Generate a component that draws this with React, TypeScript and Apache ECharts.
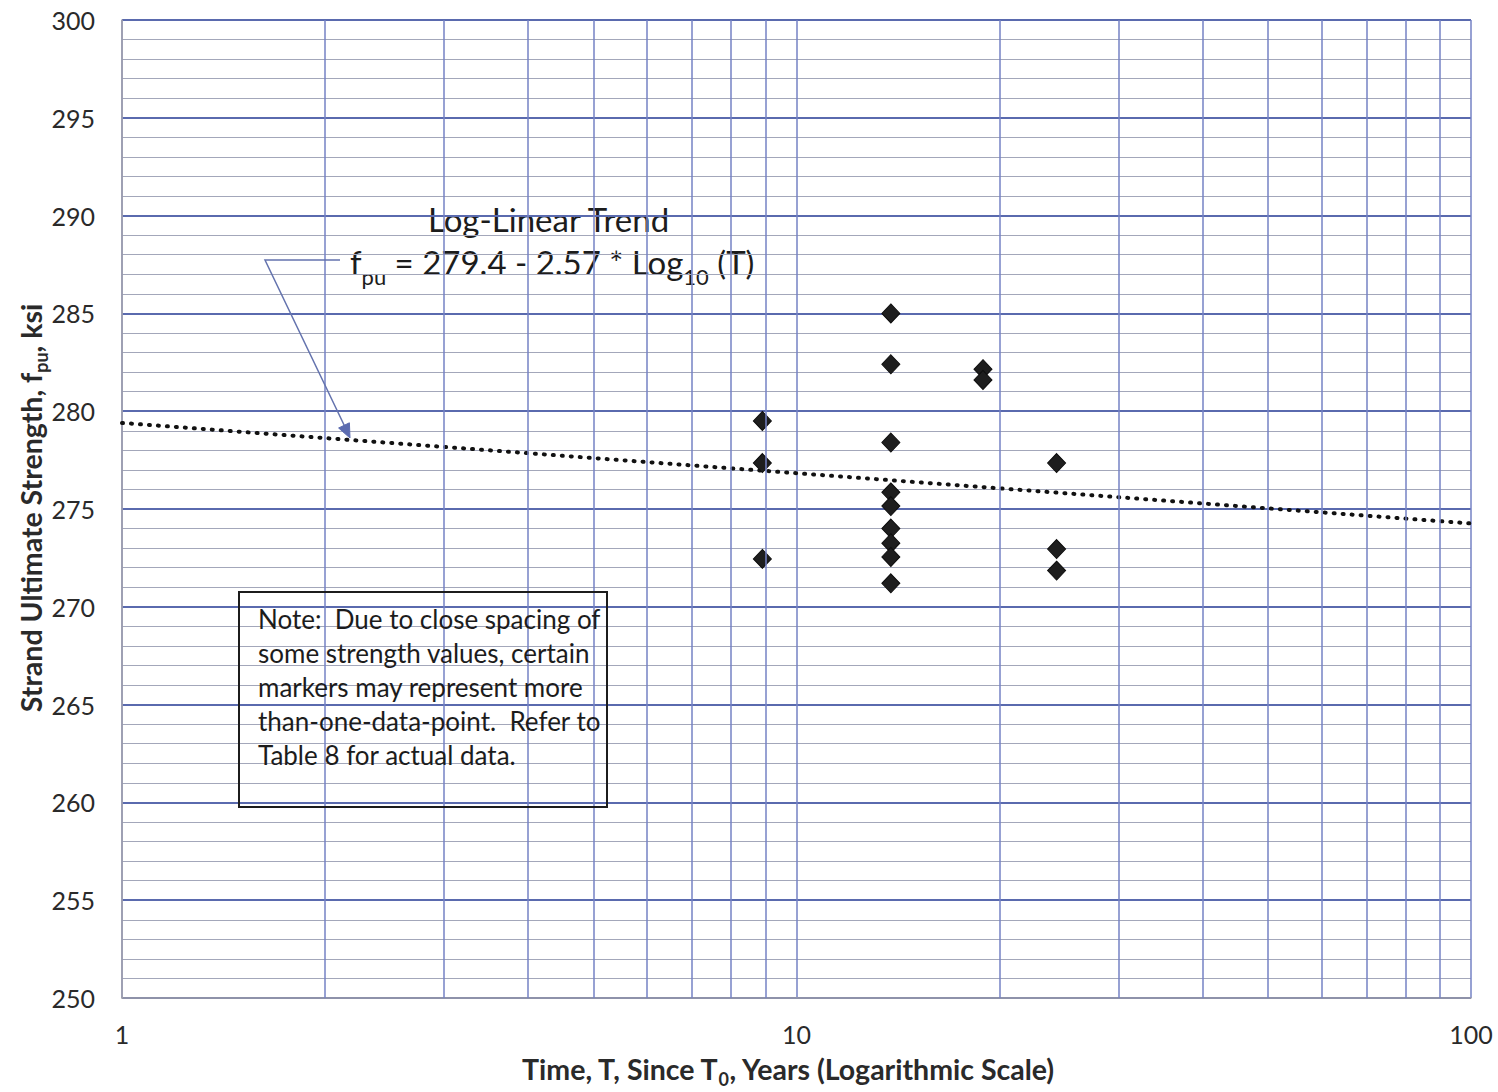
import React, { useEffect, useRef } from "react";
import * as echarts from "echarts";

// Data
const timeYears = [8.9, 8.9, 8.9, 13.8, 13.8, 13.8, 13.8, 13.8, 13.8, 13.8, 13.8, 13.8, 18.9, 18.9, 24.3, 24.3, 24.3];
const strengthKsi = [279.5, 277.35, 272.45, 285.0, 282.4, 278.4, 275.85, 275.15, 274.0, 273.25, 272.55, 271.2, 282.15, 281.6, 277.35, 272.95, 271.85];
const trendT = [1, 100];
const trendFpu = [279.4, 274.26];
const minorXGrid = [2, 3, 4, 5, 6, 7, 8, 9, 20, 30, 40, 50, 60, 70, 80, 90];
const noteLines = [
  "Note:  Due to close spacing of",
  "some strength values, certain",
  "markers may represent more",
  "than-one-data-point.  Refer to",
  "Table 8 for actual data.",
];

const FONT = "Lato, 'Open Sans', sans-serif";

export default function App() {
  const ref = useRef<HTMLDivElement>(null);
  useEffect(() => {
    if (!ref.current) return;
    const chart = echarts.init(ref.current, undefined, { renderer: "svg" });
    const blue = "#7482c4";
    const ink = "#1c1c1c";
    const option: any = {
      animation: false,
      backgroundColor: "#ffffff",
      grid: { left: 122, right: 27, top: 20, bottom: 94, containLabel: false },
      xAxis: {
        type: "log",
        logBase: 10,
        min: 1,
        max: 100,
        axisLine: { show: true, lineStyle: { color: "#a0a0a8", width: 1.5 } },
        axisTick: { show: false },
        axisLabel: { fontSize: 25, color: "#2a2a2a", fontFamily: FONT, margin: 23 },
        splitLine: { show: true, lineStyle: { color: blue, width: 1.5 } },
      },
      yAxis: {
        type: "value",
        min: 250,
        max: 300,
        interval: 5,
        axisLine: { show: true, lineStyle: { color: "#a0a0a8", width: 1.5 } },
        axisTick: { show: false },
        axisLabel: { fontSize: 25, color: "#2a2a2a", fontFamily: FONT, margin: 27 },
        splitLine: { show: true, lineStyle: { color: "#5a6aae", width: 2 } },
        minorTick: { show: false, splitNumber: 5 },
        minorSplitLine: { show: true, lineStyle: { color: "#a3a7ba", width: 1.2 } },
      },
      series: [
        {
          type: "scatter",
          data: [],
          z: 1,
          silent: true,
          markLine: {
            silent: true,
            symbol: "none",
            label: { show: false },
            lineStyle: { type: "solid", color: blue, width: 1.5 },
            data: minorXGrid.map((v) => ({ xAxis: v })),
          },
        },
        {
          type: "line",
          z: 3,
          data: trendT.map((t, i) => [t, trendFpu[i]]),
          showSymbol: false,
          symbol: "none",
          lineStyle: { color: "#111", width: 4, type: [1, 8], cap: "round" },
        },
        {
          type: "scatter",
          z: 4,
          symbol: "diamond",
          symbolSize: [18, 19],
          itemStyle: { color: "#1e1e1e", borderColor: "#0e0e0e", borderWidth: 1, opacity: 1 },
          data: timeYears.map((t, i) => [t, strengthKsi[i]]),
        },
      ],
      graphic: [
        {
          type: "text",
          left: 428,
          top: 202,
          style: { text: "Log-Linear Trend", font: `33px ${FONT}`, fill: ink },
        },
        {
          type: "text",
          left: 350,
          top: 245,
          style: {
            text: "{m|f}{s|pu}{m| = 279.4 - 2.57 * Log}{s|10}{m| (T)}",
            rich: {
              m: { fontSize: 33, fontFamily: FONT, fill: ink, color: ink, verticalAlign: "bottom", lineHeight: 40 },
              s: { fontSize: 22, fontFamily: FONT, fill: ink, color: ink, verticalAlign: "bottom", lineHeight: 30, padding: [0, 0, -9, 0] },
            },
          },
        },
        {
          type: "polyline",
          shape: { points: [[340, 260], [265, 260], [346, 429]] },
          style: { stroke: "#6473ae", lineWidth: 1.5, fill: null },
          z: 10,
        },
        {
          type: "polygon",
          shape: { points: [[350, 438], [338.6, 428.0], [349.4, 422.8]] },
          style: { fill: "#5b6bb0", stroke: "#5b6bb0", lineWidth: 1 },
          z: 10,
        },
        {
          type: "rect",
          shape: { x: 239, y: 592, width: 368, height: 215 },
          style: { fill: null, stroke: ink, lineWidth: 2 },
          z: 10,
        },
        ...noteLines.map((line, i) => ({
          type: "text",
          left: 258,
          top: 606 + i * 34,
          z: 10,
          style: { text: line, font: `26px ${FONT}`, fill: ink },
        })),
        {
          type: "text",
          x: 788,
          y: 1066,
          z: 10,
          style: {
            text: "{b|Time, T, Since T}{s|0}{b|, Years (Logarithmic Scale)}",
            align: "center",
            verticalAlign: "middle",
            rich: {
              b: { fontSize: 28.5, fontWeight: "bold", fontFamily: FONT, fill: "#2a2a2a", color: "#2a2a2a", verticalAlign: "bottom", lineHeight: 34 },
              s: { fontSize: 18, fontWeight: "bold", fontFamily: FONT, fill: "#2a2a2a", color: "#2a2a2a", verticalAlign: "bottom", lineHeight: 24, padding: [0, 0, -5, 0] },
            },
          },
        },
        {
          type: "text",
          x: 28,
          y: 508,
          rotation: Math.PI / 2,
          z: 10,
          style: {
            text: "{b|Strand Ultimate Strength, f}{s|pu}{b|, ksi}",
            align: "center",
            verticalAlign: "middle",
            rich: {
              b: { fontSize: 28.5, fontWeight: "bold", fontFamily: FONT, fill: "#2a2a2a", color: "#2a2a2a", verticalAlign: "bottom", lineHeight: 34 },
              s: { fontSize: 18, fontWeight: "bold", fontFamily: FONT, fill: "#2a2a2a", color: "#2a2a2a", verticalAlign: "bottom", lineHeight: 24, padding: [0, 0, -5, 0] },
            },
          },
        },
      ],
    };
    chart.setOption(option);
    return () => chart.dispose();
  }, []);
  return (
    <div
      ref={ref}
      style={{ position: "fixed", left: 0, top: 0, width: 1498, height: 1092 }}
    />
  );
}
